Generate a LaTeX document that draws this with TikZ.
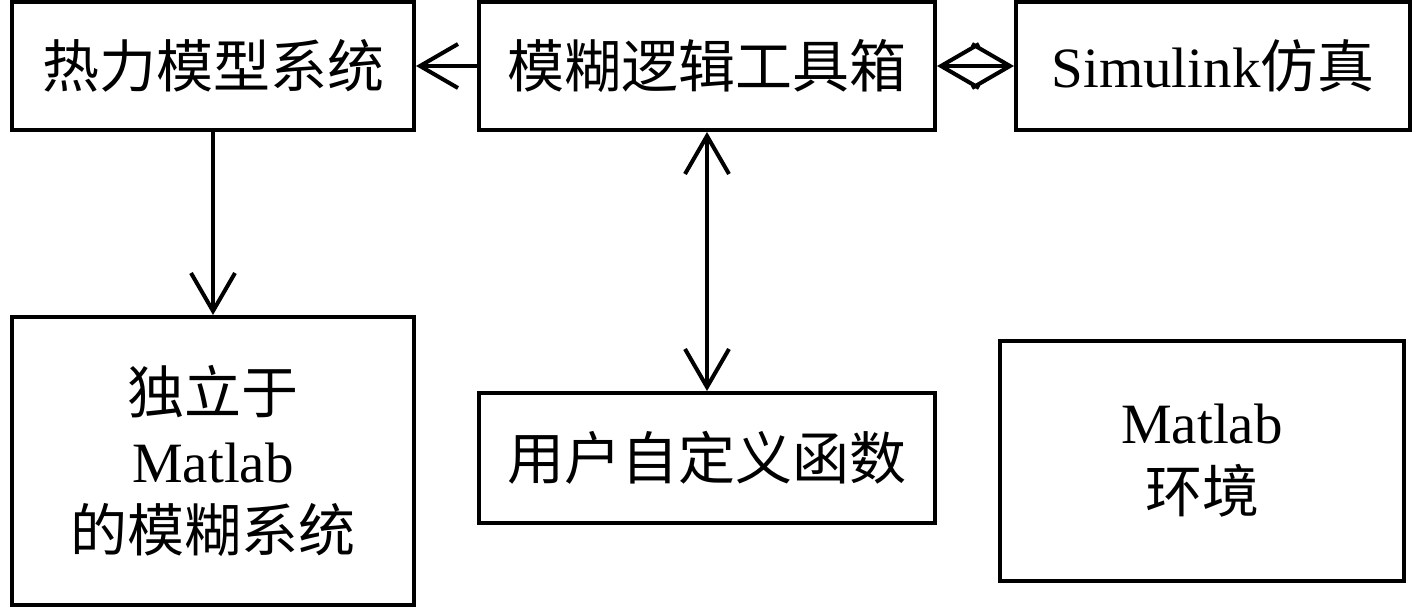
\documentclass[tikz,border=0pt]{standalone}
\usepackage{fontspec}
\setmainfont{Liberation Serif}
\newfontfamily\cjk{Noto Sans CJK SC}
\usepackage{tikz}
\usetikzlibrary{positioning, arrows.meta}
\newcommand{\zh}[1]{{\cjk #1}}
\tikzset{
  caja/.style={draw, line width=2pt, inner sep=0pt, align=center,
    font=\fontsize{28.5}{34.5}\selectfont},
  punta/.style={Straight Barb[length=19pt, width=22pt, line width=2pt]},
  flecha/.style={line width=2pt, -{Straight Barb[length=19pt, width=22pt, line width=2pt]}},
  dobleflecha/.style={line width=2pt, {Straight Barb[length=19pt, width=22pt, line width=2pt]}-{Straight Barb[length=19pt, width=22pt, line width=2pt]}}
}

\begin{document}
\begin{tikzpicture}[x=0.5pt, y=-0.5pt]
        \useasboundingbox (0,0) rectangle (1417,609);
        % Fila superior
        \node[caja, minimum width=201pt, minimum height=64pt] (termico) at (213,66) {\zh{热力模型系统}};
        \node[caja, minimum width=228pt, minimum height=64pt] (difuso) at (707,66) {\zh{模糊逻辑工具箱}};
        \node[caja, minimum width=197pt, minimum height=64pt] (simulink) at (1213,66) {Simulink\zh{仿真}};
        % Fila inferior
        \node[caja, minimum width=201pt, minimum height=144pt] (independiente) at (213,461) {\zh{独立于}\\Matlab\\\zh{的模糊系统}};
        \node[caja, minimum width=228pt, minimum height=65pt] (usuario) at (707,458) {\zh{用户自定义函数}};
        \node[caja, minimum width=202pt, minimum height=120pt] (entorno) at (1202,461) {Matlab\\\zh{环境}};
        % Flechas
        \draw[flecha] (difuso) -- (termico);
        \draw[dobleflecha] (difuso) -- (simulink);
        \draw[flecha] (termico) -- (independiente);
        \draw[dobleflecha] (difuso) -- (usuario);
\end{tikzpicture}
\end{document}
